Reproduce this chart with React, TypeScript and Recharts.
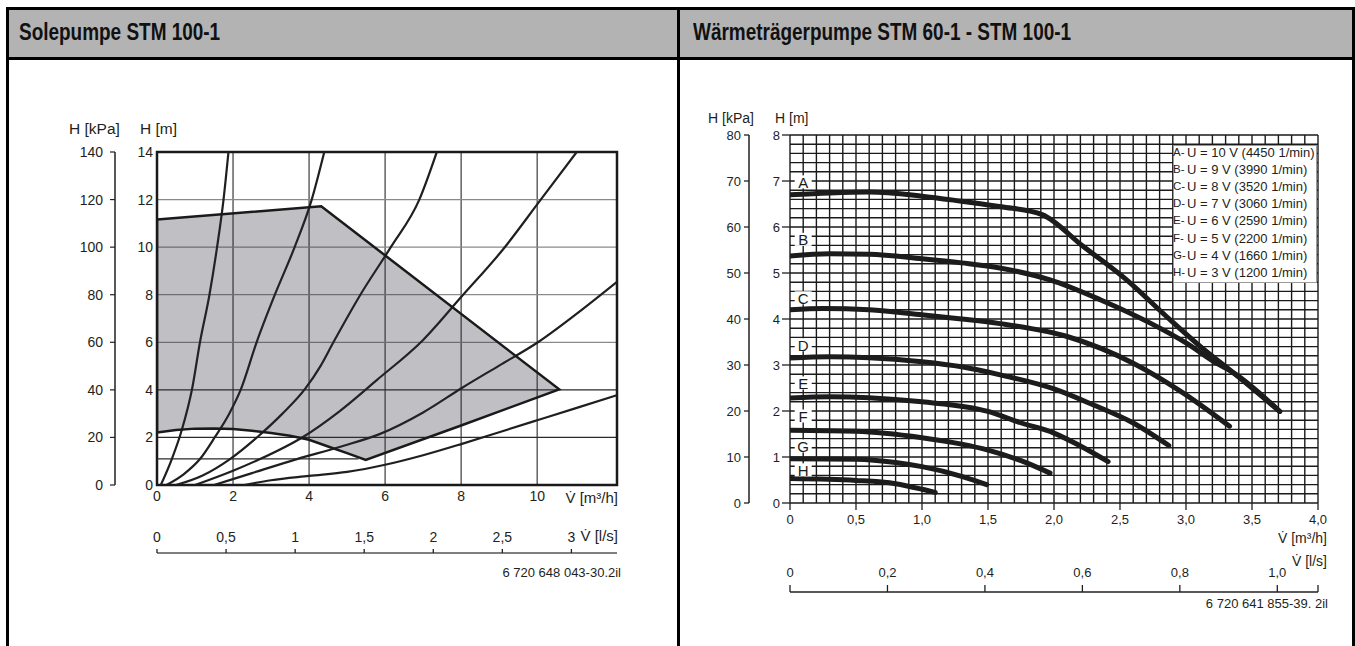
import React from "react";
import {
  CartesianGrid,
  ComposedChart,
  Line,
  ReferenceArea,
  ReferenceDot,
  ReferenceLine,
  Scatter,
  XAxis,
  YAxis,
} from "recharts";

type Pt = [number, number];

const INK = "#231f20";
const FONT = "'Liberation Sans', Arial, Helvetica, sans-serif";

// ---- Solepumpe STM 100-1 ----
const SOLE_M_TICKS = [0, 2, 4, 6, 8, 10, 12, 14];
const SOLE_KPA_TICKS = [0, 20, 40, 60, 80, 100, 120, 140];
const SOLE_FLOW_TICKS = [0, 2, 4, 6, 8, 10];
const SOLE_LS_TICKS = [0, 0.5, 1, 1.5, 2, 2.5, 3];

// grey operating field, traced round its outline
const soleField: Pt[] = [
  [0, 2.21], [0, 11.16], [4.32, 11.72], [10.58, 4.02], [8, 2.5], [5.49, 1.05],
  [5, 1.34], [4.5, 1.62], [4, 1.9], [3.5, 2.07], [3, 2.19], [2.5, 2.28], [2, 2.35],
  [1.5, 2.38], [1, 2.37], [0.5, 2.31], [0, 2.21],
];

// system curves
const sys1: Pt[] = [[0.1, 0], [0.39, 1.09], [0.65, 2.3], [0.93, 4.1], [1.13, 6.0], [1.38, 8.0], [1.58, 10], [1.75, 12], [1.88, 14]];
const sys2: Pt[] = [[0.25, 0], [0.7, 0.45], [1.13, 1.09], [1.53, 2.03], [1.9, 3.0], [2.2, 4.0], [2.62, 6.0], [3.1, 8.0], [3.62, 10], [4.07, 12], [4.4, 14]];
const sys3: Pt[] = [[0.5, 0], [1.2, 0.4], [1.92, 1.09], [2.65, 2.03], [3.3, 3.0], [3.9, 4.05], [4.3, 5.0], [4.64, 6.0], [5.35, 8.0], [6.15, 10], [6.9, 12], [7.36, 14]];
const sys4: Pt[] = [[1.0, 0], [2.0, 0.6], [2.71, 1.09], [3.85, 2.03], [4.8, 3.1], [5.78, 4.41], [7.0, 6.1], [8.0, 7.9], [9.1, 9.9], [10.05, 11.9], [11.04, 14]];
const sys5: Pt[] = [[1.5, 0], [2.5, 0.5], [3.68, 1.09], [4.8, 1.6], [5.87, 2.15], [7, 3.05], [8.04, 4.1], [9, 5.02], [10.02, 6.0], [11, 7.15], [12.1, 8.54]];
const sys6: Pt[] = [[2.3, 0], [3, 0.2], [4, 0.38], [5, 0.55], [6, 0.85], [7, 1.25], [8, 1.72], [9, 2.22], [10, 2.72], [11, 3.22], [12.1, 3.78]];
const soleCurves = [sys1, sys2, sys3, sys4, sys5, sys6];

// ---- Wärmeträgerpumpe STM 60-1 - STM 100-1 ----
const HT_M_TICKS = [0, 1, 2, 3, 4, 5, 6, 7, 8];
const HT_KPA_TICKS = [0, 10, 20, 30, 40, 50, 60, 70, 80];
const HT_FLOW_TICKS = [0, 0.5, 1, 1.5, 2, 2.5, 3, 3.5, 4];
const HT_LS_TICKS = [0, 0.2, 0.4, 0.6, 0.8, 1.0, 1.0835];

const curveA: Pt[] = [[0, 6.7], [0.3, 6.74], [0.6, 6.76], [1.0, 6.67], [1.3, 6.56], [1.6, 6.44], [1.91, 6.27], [2.22, 5.58], [2.55, 4.85], [2.85, 4.06], [3.11, 3.4], [3.36, 2.83], [3.71, 1.99]];
const curveB: Pt[] = [[0, 5.37], [0.3, 5.42], [0.6, 5.41], [1.0, 5.31], [1.3, 5.22], [1.59, 5.11], [1.97, 4.85], [2.35, 4.42], [2.73, 3.91], [3.0, 3.48], [3.23, 3.04], [3.36, 2.83], [3.71, 1.99]];
const curveC: Pt[] = [[0, 4.2], [0.25, 4.23], [0.6, 4.2], [1.0, 4.09], [1.3, 4.0], [1.59, 3.9], [2.1, 3.62], [2.6, 3.04], [2.98, 2.39], [3.33, 1.67]];
const curveD: Pt[] = [[0, 3.15], [0.3, 3.18], [0.6, 3.16], [1.0, 3.07], [1.3, 2.96], [1.6, 2.78], [2.0, 2.48], [2.3, 2.13], [2.6, 1.74], [2.87, 1.25]];
const curveE: Pt[] = [[0, 2.28], [0.3, 2.31], [0.6, 2.29], [1.0, 2.2], [1.5, 1.99], [1.74, 1.75], [2.0, 1.52], [2.2, 1.24], [2.41, 0.9]];
const curveF: Pt[] = [[0, 1.58], [0.5, 1.56], [1.0, 1.42], [1.3, 1.28], [1.5, 1.15], [1.75, 0.92], [1.97, 0.65]];
const curveG: Pt[] = [[0, 0.96], [0.5, 0.95], [0.8, 0.88], [1.0, 0.79], [1.3, 0.58], [1.49, 0.4]];
const curveH: Pt[] = [[0, 0.53], [0.5, 0.49], [0.8, 0.42], [1.0, 0.3], [1.1, 0.23]];
const htCurves = [curveA, curveB, curveC, curveD, curveE, curveF, curveG, curveH];

const STAGES = ["A", "B", "C", "D", "E", "F", "G", "H"];
const STAGE_VOLT = [10, 9, 8, 7, 6, 5, 4, 3];
const STAGE_RPM = [4450, 3990, 3520, 3060, 2590, 2200, 1660, 1200];
const STAGE_TAG_H = [6.97, 5.72, 4.45, 3.43, 2.6, 1.88, 1.23, 0.71];

const HT_V_GRID = Array.from({ length: 41 }, (_, i) => i / 10);
const HT_H_GRID = Array.from({ length: 41 }, (_, i) => i / 5);

const pts = (a: Pt[]) => a.map(([v, h]) => ({ v, h }));
const comma = (n: number) => String(n).replace(".", ",");
const commaFixed = (n: number) => (n === 0 ? "0" : n.toFixed(1).replace(".", ","));

function Note({ x, y, size, align = "left", children }: {
  x: number; y: number; size: number; align?: "left" | "right"; children: React.ReactNode;
}) {
  const style: React.CSSProperties = {
    position: "absolute",
    top: y - size * 0.59,
    fontSize: size,
    lineHeight: `${size * 1.2}px`,
    whiteSpace: "nowrap",
    color: INK,
  };
  if (align === "right") style.right = 1355 - x;
  else style.left = x;
  return <div style={style}>{children}</div>;
}

function Title({ x, children }: { x: number; children: React.ReactNode }) {
  return (
    <div style={{
      position: "absolute", left: x, top: 18.9, fontSize: 23, lineHeight: "27.6px", fontWeight: 700,
      color: "#111", whiteSpace: "nowrap", transform: "scaleX(0.824)", transformOrigin: "0 0",
    }}>
      {children}
    </div>
  );
}

const noShape = () => <g />;

// l/s scale: ticks point up, labels sit above the line
const upTick = (size: number, len: number, gap: number, fmt: (n: number) => string) => (p: any) => (
  <g>
    <line x1={p.x} x2={p.x} y1={p.y} y2={p.y - len} stroke={INK} strokeWidth={1.3} />
    <text x={p.x} y={p.y - len - gap} textAnchor="middle" fontSize={size} fill={INK}>
      {fmt(p.payload.value)}
    </text>
  </g>
);

const stageTag = (letter: string) => (p: any) => (
  <g>
    <rect x={p.cx - 8.5} y={p.cy - 7} width={17} height={13} fill="#fff" />
    <text x={p.cx} y={p.cy} dy="0.36em" textAnchor="middle" fontSize={15} fill="#1a1a1a">
      {letter}
    </text>
  </g>
);

function SoleChart() {
  const tick = { fontSize: 14, fill: INK };
  return (
    <ComposedChart width={680} height={586} margin={{ top: 92, right: 63, bottom: 73, left: 65 }}>
      <CartesianGrid vertical={true} horizontal={false} verticalValues={[2, 4, 6, 8, 10]} stroke="#3a3a3a" strokeWidth={1.2} />
      <CartesianGrid vertical={false} horizontal={true} horizontalValues={[6, 8, 10, 12]} stroke="#8a8a8a" strokeWidth={1.3} />
      <CartesianGrid vertical={false} horizontal={true} horizontalValues={[2, 4]} stroke="#2a2a2a" strokeWidth={1.2} />
      <ReferenceLine segment={[{ x: 0, y: 1.1 }, { x: 5.3, y: 1.1 }]} stroke="#2a2a2a" strokeWidth={1.2} />
      <XAxis dataKey="v" type="number" domain={[0, 12.1]} allowDataOverflow ticks={SOLE_FLOW_TICKS} interval={0}
        axisLine={false} tickLine={false} tickSize={0} tickMargin={6} height={68} tick={tick} />
      <XAxis xAxisId="ls" dataKey="ls" type="number" domain={[0, 3.33]} allowDataOverflow ticks={SOLE_LS_TICKS} interval={0}
        axisLine={{ stroke: "#555", strokeWidth: 1.5 }} tickLine={false} tickSize={0} tickMargin={0} height={20}
        tick={upTick(14, 4, 7.3, comma)} />
      <YAxis type="number" domain={[0, 14]} allowDataOverflow ticks={SOLE_M_TICKS} interval={0}
        axisLine={false} tickLine={false} tickSize={4} tickMargin={0} width={42} tick={tick} />
      <YAxis yAxisId="kpa" type="number" domain={[0, 140]} allowDataOverflow ticks={SOLE_KPA_TICKS} interval={0}
        axisLine={{ stroke: INK, strokeWidth: 1.5 }} tickLine={{ stroke: INK, strokeWidth: 1.2 }} tickSize={5} tickMargin={7} width={50} tick={tick} />
      <Scatter data={pts(soleField)} dataKey="h" shape={noShape} lineJointType="linear" isAnimationActive={false}
        line={{ fill: "#2a2c3a", fillOpacity: 0.3, stroke: "#1a1a1a", strokeWidth: 2.5, strokeLinejoin: "miter" }} />
      {soleCurves.map((c, i) => (
        <Line key={i} data={pts(c)} dataKey="h" type="monotone" stroke="#1f1f1f" strokeWidth={2.2} dot={false} isAnimationActive={false} />
      ))}
      <ReferenceArea x1={0} x2={12.1} y1={0} y2={14} fill="none" stroke="#1a1a1a" strokeWidth={2.5} ifOverflow="visible" />
    </ComposedChart>
  );
}

function HeatChart() {
  const tick = { fontSize: 13, fill: INK };
  return (
    <ComposedChart width={675} height={586} margin={{ top: 75, right: 37, bottom: 34, left: 29 }}>
      <CartesianGrid verticalValues={HT_V_GRID} horizontalValues={HT_H_GRID} stroke="#1a1a1a" strokeWidth={1.4} />
      <XAxis dataKey="v" type="number" domain={[0, 4]} allowDataOverflow ticks={HT_FLOW_TICKS} interval={0}
        tickFormatter={commaFixed} axisLine={false} tickLine={{ stroke: INK, strokeWidth: 1.3 }} tickSize={7} tickMargin={5} height={89} tick={tick} />
      <XAxis xAxisId="ls" dataKey="ls" type="number" domain={[0, 1.0835]} allowDataOverflow ticks={HT_LS_TICKS} interval={0}
        axisLine={{ stroke: INK, strokeWidth: 1.4 }} tickLine={false} tickSize={0} tickMargin={0} height={20}
        tick={upTick(13, 7, 8.3, (n: number) => (n > 1.05 ? "" : commaFixed(n)))} />
      <YAxis type="number" domain={[0, 8]} allowDataOverflow ticks={HT_M_TICKS} interval={0}
        axisLine={false} tickLine={{ stroke: INK, strokeWidth: 1.3 }} tickSize={8} tickMargin={2} width={41} tick={tick} />
      <YAxis yAxisId="kpa" type="number" domain={[0, 80]} allowDataOverflow ticks={HT_KPA_TICKS} interval={0}
        axisLine={{ stroke: INK, strokeWidth: 1.5 }} tickLine={{ stroke: INK, strokeWidth: 1.3 }} tickSize={5} tickMargin={3} width={40} tick={tick} />
      {htCurves.map((c, i) => (
        <Line key={STAGES[i]} data={pts(c)} dataKey="h" type="monotone" stroke="#1c1c1c" strokeWidth={5}
          strokeLinecap="round" dot={false} isAnimationActive={false} />
      ))}
      {STAGES.map((s, i) => (
        <ReferenceDot key={s} x={0.1} y={STAGE_TAG_H[i]} r={0} shape={stageTag(s)} ifOverflow="visible" />
      ))}
    </ComposedChart>
  );
}

export default function App() {
  return (
    <div style={{ position: "absolute", left: 0, top: 0, width: 1355, height: 646, background: "#fff", overflow: "hidden", fontFamily: FONT }}>
      {/* table frame */}
      <div style={{ position: "absolute", left: 9, top: 9, width: 1343, height: 48, background: "#b3b3b3" }} />
      <div style={{ position: "absolute", left: 6, top: 7, width: 1349, height: 2.5, background: "#000" }} />
      <div style={{ position: "absolute", left: 6, top: 57, width: 1349, height: 2.8, background: "#000" }} />
      <div style={{ position: "absolute", left: 6, top: 7, width: 3, height: 639, background: "#000" }} />
      <div style={{ position: "absolute", left: 677, top: 7, width: 3, height: 639, background: "#000" }} />
      <div style={{ position: "absolute", left: 1352, top: 7, width: 3, height: 639, background: "#000" }} />
      <Title x={19}>Solepumpe STM 100-1</Title>
      <Title x={693}>Wärmeträgerpumpe STM 60-1 - STM 100-1</Title>

      {/* left chart */}
      <div style={{ position: "absolute", left: 0, top: 60 }}>
        <SoleChart />
      </div>
      <Note x={69} y={129.5} size={15.5}>H [kPa]</Note>
      <Note x={140} y={129.5} size={15.5}>H [m]</Note>
      <Note x={618} y={498} size={15} align="right">V&#775; [m³/h]</Note>
      <Note x={618} y={536} size={15} align="right">V&#775; [l/s]</Note>
      <Note x={621} y={573} size={13} align="right">6 720 648 043-30.2il</Note>

      {/* right chart */}
      <div style={{ position: "absolute", left: 680, top: 60 }}>
        <HeatChart />
      </div>
      <Note x={708} y={118} size={14}>H [kPa]</Note>
      <Note x={775} y={118} size={14}>H [m]</Note>
      <Note x={1327} y={538} size={14} align="right">V&#775; [m³/h]</Note>
      <Note x={1327} y={561} size={14} align="right">V&#775; [l/s]</Note>
      <Note x={1328} y={604} size={13} align="right">6 720 641 855-39. 2il</Note>

      {/* stage legend */}
      <div style={{ position: "absolute", left: 1172.5, top: 145, width: 144, height: 137.5, background: "#fff", border: "1px solid #9a9a9a", boxSizing: "border-box" }} />
      {STAGES.map((s, i) => (
        <React.Fragment key={s}>
          <Note x={1173} y={152.3 + i * 17.2} size={11.5}>{s}-</Note>
          <Note x={1187} y={152.3 + i * 17.2} size={13}>{`U = ${STAGE_VOLT[i]} V (${STAGE_RPM[i]} 1/min)`}</Note>
        </React.Fragment>
      ))}
    </div>
  );
}
